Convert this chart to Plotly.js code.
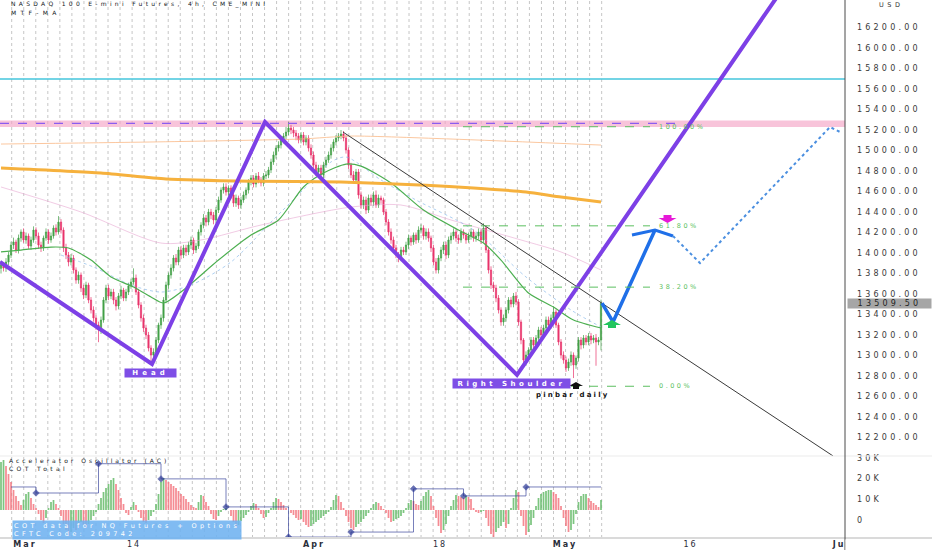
<!DOCTYPE html>
<html><head><meta charset="utf-8">
<script src="https://cdn.plot.ly/plotly-3.0.1.min.js"></script>
<style>
html,body{margin:0;padding:0;background:#fff;}
#chart{width:932px;height:550px;}
.ytick text,.y3tick text{letter-spacing:3.2px;}
.xtick text{letter-spacing:2px;}
</style></head><body><div id="chart"></div>
<script>
// ---------------- DATA (4h bars) ----------------
const open = [
13850,13883,13853,13912,13980,14078,14107,14029,14146,14205,
14127,14166,14068,14127,14224,14166,14078,14049,14146,14205,
14127,14166,14244,14205,14302,14224,14049,13980,13912,13951,
13834,13736,13785,13658,13590,13688,13541,13444,13366,13297,
13249,13346,13541,13658,13580,13619,13541,13483,13580,13639,
13561,13619,13678,13717,13756,13619,13492,13366,13268,13200,
13073,13004,13034,13151,13297,13366,13541,13688,13785,13853,
13951,13912,14029,13980,14049,14010,14078,14127,14029,14068,
14205,14273,14341,14302,14400,14370,14322,14419,14517,14614,
14644,14595,14634,14566,14487,14536,14468,14517,14566,14614,
14692,14731,14673,14751,14712,14683,14751,14761,14810,14888,
14956,15024,15053,15102,15141,15180,15219,15200,15170,15141,
15102,15151,15083,15122,15024,14956,14858,14790,14829,14761,
14858,14907,14956,15024,15083,15122,15141,15161,15122,15005,
14858,14761,14712,14790,14566,14468,14517,14419,14536,14497,
14566,14468,14536,14517,14400,14302,14205,14127,14049,13980,
13951,14029,14010,14078,14146,14107,14175,14127,14224,14244,
14166,14205,14146,14049,13912,13834,13951,14029,14078,13980,
14127,14166,14205,14146,14127,14205,14175,14127,14166,14205,
14146,14166,14205,14127,14244,14029,13834,13688,13658,13561,
13444,13327,13366,13444,13541,13502,13580,13522,13327,13151,
12956,13004,13053,13151,13102,13171,13249,13200,13268,13346,
13297,13366,13424,13297,13132,13004,12956,12878,12936,13004,
12907,12975,13151,13102,13171,13132,13190,13151,13171,13132,
13151];
const high = [
13920,13910,13950,14010,14110,14150,14130,14180,14230,14240,
14200,14190,14160,14260,14250,14200,14110,14170,14240,14230,
14200,14270,14280,14360,14330,14250,14090,14010,13990,13980,
13860,13820,13810,13690,13720,13710,13570,13480,13390,13330,
13380,13570,13690,13690,13650,13650,13570,13610,13680,13660,
13650,13710,13750,13850,13790,13650,13520,13400,13300,13230,
13100,13070,13180,13320,13400,13570,13720,13810,13890,13980,
13990,14060,14070,14080,14080,14110,14160,14150,14100,14230,
14300,14380,14370,14430,14430,14400,14450,14550,14640,14680,
14680,14660,14660,14600,14570,14560,14550,14600,14640,14720,
14760,14760,14780,14790,14740,14780,14800,14840,14920,14990,
15050,15090,15130,15170,15230,15280,15250,15230,15200,15170,
15180,15180,15150,15150,15060,14990,14890,14860,14860,14890,
14940,14990,15060,15110,15150,15170,15200,15190,15150,15030,
14880,14800,14820,14820,14600,14550,14550,14570,14570,14600,
14610,14570,14560,14540,14430,14330,14240,14160,14080,14010,
14060,14060,14110,14180,14170,14200,14200,14260,14280,14270,
14240,14240,14170,14080,13950,13980,14060,14110,14110,14160,
14200,14240,14230,14180,14240,14230,14200,14200,14240,14230,
14200,14240,14230,14290,14270,14060,13870,13720,13690,13590,
13470,13400,13470,13570,13570,13610,13620,13550,13350,13170,
13040,13080,13180,13180,13200,13280,13280,13300,13380,13380,
13400,13480,13450,13320,13160,13040,12990,12970,13040,13030,
13000,13180,13180,13200,13200,13220,13220,13200,13210,13180,
13545];
const low = [
13800,13820,13815,13880,13950,14040,14000,13995,14110,14100,
14090,14040,14030,14100,14130,14040,14010,14020,14120,14090,
14100,14140,14170,14180,14190,14010,13940,13870,13880,13800,
13700,13700,13620,13550,13560,13510,13410,13330,13250,13130,
13210,13320,13510,13540,13550,13500,13440,13450,13550,13530,
13530,13590,13650,13690,13590,13460,13330,13230,13160,13040,
12920,12970,13000,13120,13260,13330,13510,13650,13750,13820,
13880,13880,13940,13950,13970,13980,14040,13990,14000,14040,
14170,14240,14260,14270,14330,14280,14290,14390,14490,14580,
14560,14560,14530,14450,14450,14430,14430,14490,14530,14580,
14660,14640,14640,14680,14650,14650,14720,14730,14780,14860,
14920,14990,15020,15070,15110,15150,15160,15130,15100,15070,
15070,15050,15050,14990,14920,14830,14750,14760,14720,14730,
14830,14880,14920,14990,15050,15090,15110,15090,14970,14820,
14730,14680,14680,14530,14430,14430,14380,14390,14460,14460,
14440,14440,14480,14370,14270,14170,14090,14010,13950,13910,
13920,13980,13980,14040,14070,14080,14090,14100,14190,14130,
14130,14110,14010,13880,13800,13800,13920,13990,13940,13950,
14090,14130,14110,14090,14100,14140,14090,14100,14130,14110,
14110,14130,14090,14100,14000,13800,13650,13620,13520,13410,
13290,13290,13330,13410,13470,13470,13490,13290,13110,12890,
12900,12970,13020,13070,13070,13140,13170,13160,13240,13260,
13260,13330,13270,13100,12970,12920,12840,12850,12900,12780,
12870,12940,13060,13070,13100,13100,13110,13120,12900,13100,
13050];
const close = [
13883,13853,13912,13980,14078,14107,14029,14146,14205,14127,
14166,14068,14127,14224,14166,14078,14049,14146,14205,14127,
14166,14244,14205,14302,14224,14049,13980,13912,13951,13834,
13736,13785,13658,13590,13688,13541,13444,13366,13297,13249,
13346,13541,13658,13580,13619,13541,13483,13580,13639,13561,
13619,13678,13717,13756,13619,13492,13366,13268,13200,13073,
13004,13034,13151,13297,13366,13541,13688,13785,13853,13951,
13912,14029,13980,14049,14010,14078,14127,14029,14068,14205,
14273,14341,14302,14400,14370,14322,14419,14517,14614,14644,
14595,14634,14566,14487,14536,14468,14517,14566,14614,14692,
14731,14673,14751,14712,14683,14751,14761,14810,14888,14956,
15024,15053,15102,15141,15180,15219,15200,15170,15141,15102,
15151,15083,15122,15024,14956,14858,14790,14829,14761,14858,
14907,14956,15024,15083,15122,15141,15161,15122,15005,14858,
14761,14712,14790,14566,14468,14517,14419,14536,14497,14566,
14468,14536,14517,14400,14302,14205,14127,14049,13980,13951,
14029,14010,14078,14146,14107,14175,14127,14224,14244,14166,
14205,14146,14049,13912,13834,13951,14029,14078,13980,14127,
14166,14205,14146,14127,14205,14175,14127,14166,14205,14146,
14166,14205,14127,14244,14029,13834,13688,13658,13561,13444,
13327,13366,13444,13541,13502,13580,13522,13327,13151,12956,
13004,13053,13151,13102,13171,13249,13200,13268,13346,13297,
13366,13424,13297,13132,13004,12956,12878,12936,13004,12907,
12975,13151,13102,13171,13132,13190,13151,13171,13132,13151,
13510];

// Accelerator Oscillator histogram (one value per bar)
const acValues = [
48,50,44,36,28,20,14,9,5,10,
16,18,12,6,2,-4,-10,-13,-8,2,
8,10,6,2,-6,-14,-20,-25,-22,-18,
-20,-16,-12,-15,-17,-14,-10,-6,-2,6,
12,18,22,26,30,32,26,20,12,6,
-3,-5,3,8,5,-2,-8,-12,-13,-10,
-6,-2,6,16,28,32,30,28,26,24,
22,19,16,14,11,8,5,3,2,8,
15,14,8,4,-4,-9,-10,-6,-2,1,
2,0,-6,-12,-17,-15,-11,-8,-5,-2,
4,7,6,2,-4,-8,-7,-3,2,8,
12,11,8,5,2,0,-3,-5,-8,-10,
-9,-12,-15,-17,-16,-14,-12,-10,-8,-6,
-4,-2,3,10,15,14,8,2,-6,-12,
-18,-20,-17,-14,-12,-9,-6,-3,2,6,
8,7,4,1,-3,-8,-12,-11,-9,-8,
-6,-3,2,7,10,9,6,5,9,14,
18,20,14,4,-8,-16,-23,-20,-14,-6,
4,10,15,14,13,12,14,13,11,2,
-2,-3,-2,-1,-8,-16,-24,-27,-22,-18,
-16,-12,-18,-14,2,12,20,18,-6,-16,
-25,-22,-15,-8,4,12,16,18,19,20,
20,18,16,12,4,-8,-16,-22,-20,-14,
-4,8,14,16,16,12,9,7,5,3,
10];

// COT Total (weekly reports, at bar index)
const cotBars   = [4, 14, 39, 64, 90, 115, 140, 165, 185, 210, 240];
const cotValues = [15900, 13000, 27100, 19800, 6300, -8200, -5800, 15000, 11600, 15900, 15900];

// MTF-MA lines (bar index, price)
const greenBars = [0,8,20,27,36,44,53,60,65,73,87,100,111,121,129,138,144,156,169,183,193,200,211,221,229,240];
const greenVals = [14010,14029,14058,14049,13931,13766,13668,13571,13512,13639,13931,14175,14322,14644,14780,14868,14848,14683,14419,14224,14097,13931,13610,13473,13346,13268];
const lightBlueBars = [24,37,52,64,76,92,108,120,132,138,152,166,189,210,228,240];
const lightBlueVals = [13980,13863,13688,13619,13688,13912,14302,14595,14888,14936,14712,14517,14224,13766,13444,13278];
const pinkBars = [0,32,64,80,104,140,160,180,208,224,240];
const pinkVals = [14644,14400,14097,14127,14273,14448,14468,14322,14127,14010,13834];
const orangeBars = [0,40,66,100,136,170,189,210,224,240];
const orangeVals = [14829,14780,14722,14700,14692,14660,14634,14595,14546,14497];
const orangeThinBars = [0,60,120,140,180,240];
const orangeThinVals = [15063,15083,15112,15141,15112,15053];

// Drawings (bar index, price)
const hsBars = [-0.4, 60.4, 105.6, 206.4, 319.6];
const hsPrices = [13912, 12917, 15278, 12810, 16824];
const trendBars = [136.8, 332.8];
const trendPrices = [15180, 12020];
const arrowBars = [240.4, 244.8, 261.6];
const arrowPrices = [13512, 13327, 14224];
const arrowHeadBars = [252.4, 261.6, 268.8];
const arrowHeadPrices = [14175, 14224, 14166];
const projBars = [268.8, 279.6, 331.6, 336.4];
const projPrices = [14166, 13902, 15229, 15171];
const fibLevels = [12700, 13667, 14265, 15232];
const fibLabels = ['0.00%', '38.20%', '61.80%', '100.00%'];
const fibFrom = 184.8, fibTo = 259.6, fibLabelBar = 262.4;
const cyanLevel = 15697;
const zoneLevels = [15229, 15292];
const zoneDashLevel = 15265, zoneDashEnd = 270.4;
const lastPrice = 13509.5;

// Tick labels
const priceTicks = [12200,12400,12600,12800,13000,13200,13400,13600,13800,14000,14200,14400,14600,14800,15000,15200,15400,15600,15800,16000,16200];
const cotTickVals = [0, 10000, 20000, 30000];
const cotTickText = ['0', '10K', '20K', '30K'];
const dateTickBars = [9.6, 53.2, 125.2, 175.6, 225.6, 275.8, 336.8];
const dateTickText = ['<b>Mar</b>', '14', '<b>Apr</b>', '18', '<b>May</b>', '16', '<b>Jun</b>'];

// ---------------- BUILD ----------------
const bars = close.map((_, k) => k);
const UP = '#43a047', DOWN = '#e8336b';
const acColors = acValues.map((v, k) => (k === 0 || v >= acValues[k - 1]) ? 'rgba(102,187,106,0.85)' : 'rgba(242,110,120,0.8)');

const sp = (t, ls) => `<span style="letter-spacing:${ls}px">${t}</span>`;
const PW = 845, PH = 538;
const xp = px => px / PW;
const yp = py => 1 - py / PH;

const noHover = {hoverinfo: 'skip'};
const traces = [
  Object.assign({type: 'candlestick', x: bars, open, high, low, close, xaxis: 'x', yaxis: 'y', whiskerwidth: 0,
    increasing: {line: {color: UP, width: 0.7}, fillcolor: UP},
    decreasing: {line: {color: DOWN, width: 0.7}, fillcolor: DOWN}}, noHover),
  Object.assign({type: 'scatter', mode: 'lines', x: orangeThinBars, y: orangeThinVals, xaxis: 'x', yaxis: 'y',
    line: {color: 'rgba(250,185,135,0.8)', width: 1, shape: 'spline', smoothing: 0.6}}, noHover),
  Object.assign({type: 'scatter', mode: 'lines', x: pinkBars, y: pinkVals, xaxis: 'x', yaxis: 'y',
    line: {color: 'rgba(230,160,205,0.55)', width: 1, shape: 'spline', smoothing: 0.8}}, noHover),
  Object.assign({type: 'scatter', mode: 'lines', x: lightBlueBars, y: lightBlueVals, xaxis: 'x', yaxis: 'y',
    line: {color: 'rgba(120,175,230,0.6)', width: 1, dash: 'dot', shape: 'spline', smoothing: 0.8}}, noHover),
  Object.assign({type: 'scatter', mode: 'lines', x: greenBars, y: greenVals, xaxis: 'x', yaxis: 'y',
    line: {color: '#4caf50', width: 1.2, shape: 'spline', smoothing: 0.7}}, noHover),
  Object.assign({type: 'scatter', mode: 'lines', x: orangeBars, y: orangeVals, xaxis: 'x', yaxis: 'y',
    line: {color: '#f6b13d', width: 3, shape: 'spline', smoothing: 0.6}}, noHover),
  Object.assign({type: 'scatter', mode: 'lines', x: trendBars, y: trendPrices, xaxis: 'x', yaxis: 'y',
    line: {color: '#3a3a3a', width: 1}}, noHover),
  Object.assign({type: 'scatter', mode: 'lines', x: hsBars, y: hsPrices, xaxis: 'x', yaxis: 'y',
    line: {color: '#7d40e6', width: 4}}, noHover),
  Object.assign({type: 'scatter', mode: 'lines', x: arrowBars, y: arrowPrices, xaxis: 'x', yaxis: 'y',
    line: {color: '#1f6fe8', width: 3.5}}, noHover),
  Object.assign({type: 'scatter', mode: 'lines', x: arrowHeadBars, y: arrowHeadPrices, xaxis: 'x', yaxis: 'y',
    line: {color: '#1f6fe8', width: 3}}, noHover),
  Object.assign({type: 'scatter', mode: 'lines', x: projBars, y: projPrices, xaxis: 'x', yaxis: 'y',
    line: {color: '#4b8fe0', width: 2, dash: 'dot'}}, noHover),
  Object.assign({type: 'bar', x: bars, y: acValues, xaxis: 'x', yaxis: 'y2',
    marker: {color: acColors, line: {width: 0}}}, noHover),
  Object.assign({type: 'scatter', mode: 'lines+markers', x: cotBars, y: cotValues, xaxis: 'x', yaxis: 'y3',
    line: {color: 'rgba(48,60,150,0.65)', width: 1, shape: 'hv'},
    marker: {symbol: 'diamond', color: '#283593', size: cotBars.map((_, k) => (k === 0 || k === cotBars.length - 1) ? 0 : 5)}}, noHover)
];

// shapes
const shapes = [];
for (let k = 0; k < 50; k++) {
  const b = (11.7 + 12.04 * k - 1) / 2.5;
  shapes.push({type: 'line', xref: 'x', yref: 'paper', x0: b, x1: b, y0: 0, y1: 1, layer: 'below',
    line: {color: '#c6c6c6', width: 1, dash: 'dot'}});
}
shapes.push({type: 'rect', xref: 'paper', yref: 'y', x0: 0, x1: 1, y0: zoneLevels[0], y1: zoneLevels[1], layer: 'below',
  fillcolor: 'rgba(244,164,198,0.65)', line: {width: 0}});
shapes.push({type: 'line', xref: 'paper', yref: 'y', x0: 0, x1: 1, y0: cyanLevel, y1: cyanLevel, layer: 'below',
  line: {color: '#45c6dc', width: 1.5}});
shapes.push({type: 'line', xref: 'x', yref: 'y', x0: -0.4, x1: zoneDashEnd, y0: zoneDashLevel, y1: zoneDashLevel,
  line: {color: '#8b5cf0', width: 1.3, dash: 'dash'}});
fibLevels.forEach(v => shapes.push({type: 'line', xref: 'x', yref: 'y', x0: fibFrom, x1: fibTo, y0: v, y1: v,
  line: {color: '#5cbf60', width: 1, dash: 'dash'}}));
// pane separator, bottom line, right border
shapes.push({type: 'line', xref: 'paper', yref: 'paper', x0: 0, x1: 932 / PW, y0: yp(456), y1: yp(456), line: {color: '#ebebeb', width: 1}});
shapes.push({type: 'line', xref: 'paper', yref: 'paper', x0: 0, x1: 932 / PW, y0: yp(538), y1: yp(538), line: {color: '#dadada', width: 2}});
shapes.push({type: 'line', xref: 'paper', yref: 'paper', x0: 1, x1: 1, y0: yp(550), y1: 1, line: {color: '#4a4a4a', width: 1}});
shapes.push({type: 'rect', xref: 'paper', yref: 'paper', x0: xp(845.5), x1: 932 / PW, y0: yp(550), y1: yp(539.5), layer: 'above',
  fillcolor: '#ffffff', line: {width: 0}});
// arrow marks
const upPath = 'M -9 0 L 0 5 L 9 0 L 4 0 L 4 -3 L -4 -3 L -4 0 Z';
const upSmall = 'M -7 0 L 0 4 L 7 0 L 3 0 L 3 -3 L -3 -3 L -3 0 Z';
const downPath = 'M -9 0 L 0 -5 L 9 0 L 4 0 L 4 3 L -4 3 L -4 0 Z';
const marks = [
  {bar: 244.4, price: 13297, path: upPath, color: '#22c55e'},
  {bar: 230, price: 12702, path: upSmall, color: '#111111'},
  {bar: 266.6, price: 14341, path: downPath, color: '#e619d8'}
];
marks.forEach(m => shapes.push({type: 'path', xref: 'x', yref: 'y', xsizemode: 'pixel', ysizemode: 'pixel',
  xanchor: m.bar, yanchor: m.price, path: m.path, fillcolor: m.color, line: {width: 0}, layer: 'above'}));

// annotations
const F = 'DejaVu Sans';
const ann = [
  {xref: 'paper', yref: 'paper', x: xp(10), y: yp(4.2), xanchor: 'left', yanchor: 'middle', showarrow: false, borderpad: 0,
    text: sp('NASDAQ 100 E-mini Futures, 4h, CME_MINI', 3.3), font: {family: F, size: 6, color: '#131722'}},
  {xref: 'paper', yref: 'paper', x: xp(10), y: yp(12.6), xanchor: 'left', yanchor: 'middle', showarrow: false, borderpad: 0,
    text: sp('MTF-MA', 4.3), font: {family: F, size: 6, color: '#131722'}},
  {xref: 'paper', yref: 'paper', x: xp(8), y: yp(460.3), xanchor: 'left', yanchor: 'middle', showarrow: false, borderpad: 0,
    text: sp('Accelerator Oscillator (AC)', 3), font: {family: F, size: 6, color: '#131722'}},
  {xref: 'paper', yref: 'paper', x: xp(8), y: yp(468.7), xanchor: 'left', yanchor: 'middle', showarrow: false, borderpad: 0,
    text: sp('COT Total', 3.4), font: {family: F, size: 6, color: '#131722'}},
  {xref: 'paper', yref: 'paper', x: xp(12), y: yp(530), xanchor: 'left', yanchor: 'middle', showarrow: false, align: 'left',
    text: sp('COT data for NQ Futures + Options', 3.4) + '<br>' + sp('CFTC Code: 209742', 3.4),
    font: {family: F, size: 6.5, color: '#ffffff'}, bgcolor: 'rgba(110,178,240,0.88)', borderpad: 1},
  {xref: 'x', yref: 'y', x: 59.8, y: 12834, xanchor: 'center', yanchor: 'middle', showarrow: false,
    text: '<b>' + sp('Head', 4) + '</b>', font: {family: F, size: 7, color: '#ffffff'}, bgcolor: '#7e4ee6', width: 51, height: 8, borderpad: 0},
  {xref: 'x', yref: 'y', x: 204.2, y: 12731, xanchor: 'center', yanchor: 'middle', showarrow: false,
    text: '<b>' + sp('Right Shoulder', 3.5) + '</b>', font: {family: F, size: 7, color: '#ffffff'}, bgcolor: '#7e4ee6', width: 117, height: 9, borderpad: 0},
  {xref: 'x', yref: 'y', x: 228.8, y: 12619, xanchor: 'center', yanchor: 'middle', showarrow: false,
    text: '<b>' + sp('pinbar daily', 2.2) + '</b>', font: {family: F, size: 7, color: '#111111'}},
  {xref: 'paper', yref: 'paper', x: xp(891), y: yp(5), xanchor: 'center', yanchor: 'middle', showarrow: false,
    text: sp('USD', 3.5), font: {family: F, size: 6.5, color: '#333333'}, bgcolor: '#ffffff', borderpad: 1},
  {xref: 'paper', yref: 'y', x: xp(847), y: lastPrice, xanchor: 'left', yanchor: 'middle', showarrow: false,
    text: sp('13509.50', 3.2), font: {family: F, size: 8, color: '#222222'}, bgcolor: '#a6a6a6', width: 83, height: 9, borderpad: 0}
];
fibLevels.forEach((v, k) => ann.push({xref: 'x', yref: 'y', x: fibLabelBar, y: v, xanchor: 'left', yanchor: 'middle', showarrow: false,
  text: sp(fibLabels[k], 2.5), font: {family: F, size: 6.5, color: '#5cbf60'}}));

const tickFont = {family: F, size: 8, color: '#3a3a3a'};
const layout = {
  width: 932, height: 550, margin: {l: 0, r: 87, t: 0, b: 12, pad: 0},
  paper_bgcolor: '#ffffff', plot_bgcolor: '#ffffff', showlegend: false, hovermode: false,
  font: {family: F, size: 8, color: '#2a2e39'},
  bargap: 0.3, boxgap: 0.3,
  xaxis: {domain: [0, 1], anchor: 'y2', range: [-0.4, 337.6], rangeslider: {visible: false},
    showgrid: false, zeroline: false, showline: false, ticks: '', tickmode: 'array',
    tickvals: dateTickBars, ticktext: dateTickText, tickfont: {family: F, size: 8, color: '#2a2e39'}},
  yaxis: {domain: [1 - 456 / PH, 1], anchor: 'x', side: 'right', range: [12019.5, 16468.3],
    tickmode: 'array', tickvals: priceTicks, tickformat: '.2f', showgrid: false, zeroline: false,
    showline: false, ticks: '', ticklabelstandoff: 11, tickfont: tickFont},
  yaxis2: {domain: [0, 1 - 456 / PH], anchor: 'x', range: [-28, 54], showticklabels: false,
    showgrid: false, zeroline: false, showline: false},
  yaxis3: {overlaying: 'y2', anchor: 'x', side: 'right', range: [-8666, 30814], tickmode: 'array',
    tickvals: cotTickVals, ticktext: cotTickText, showgrid: false, zeroline: false, showline: false,
    ticks: '', ticklabelstandoff: 11, tickfont: tickFont},
  shapes: shapes, annotations: ann
};
Plotly.newPlot('chart', traces, layout, {staticPlot: true, displayModeBar: false});
</script></body></html>
